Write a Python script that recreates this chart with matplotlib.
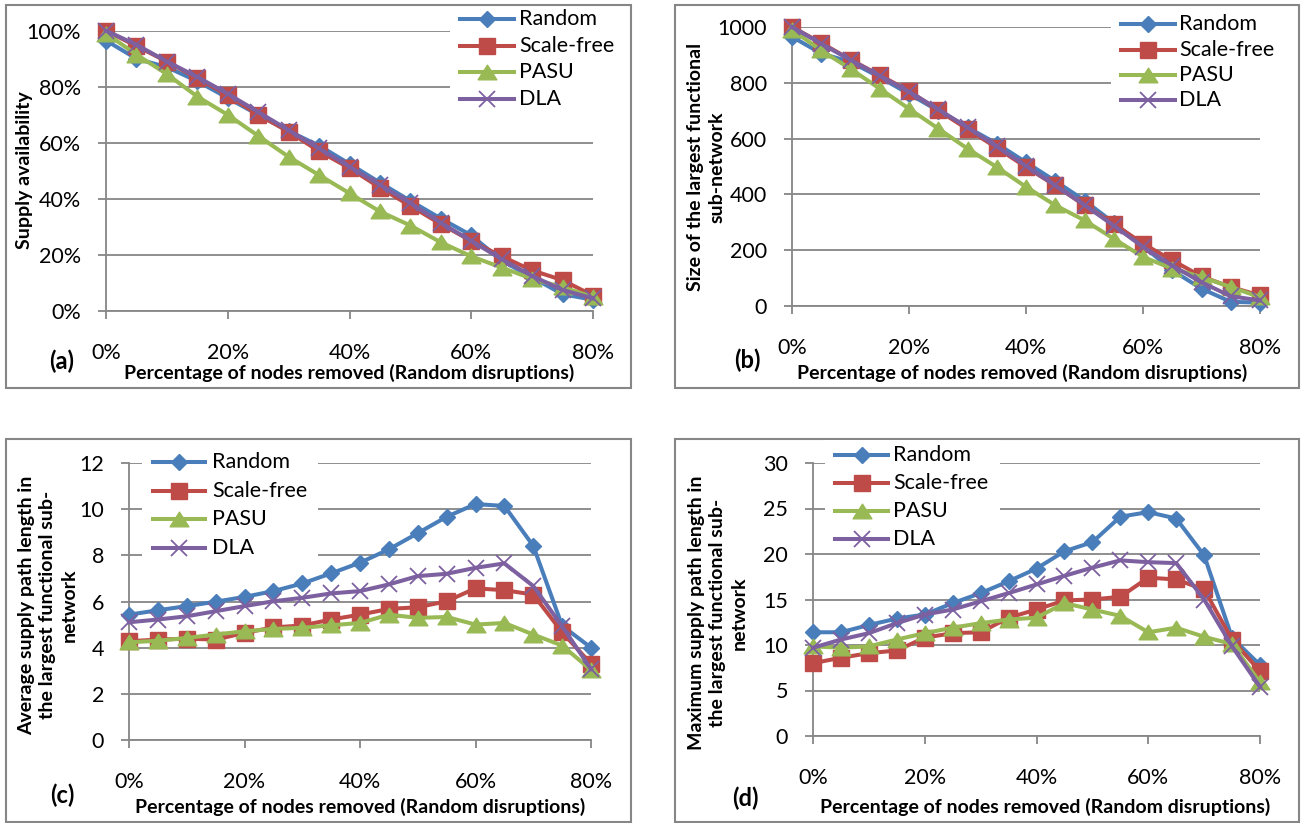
import numpy as np
import matplotlib
matplotlib.use("Agg")
import matplotlib.pyplot as plt
from matplotlib.patches import Rectangle
from matplotlib.lines import Line2D
from matplotlib.path import Path

plt.rcParams['font.family'] = ['Lato', 'DejaVu Sans']

# ---------------- data ----------------
categories = ["0%", "5%", "10%", "15%", "20%", "25%", "30%", "35%", "40%",
              "45%", "50%", "55%", "60%", "65%", "70%", "75%", "80%"]
series_names = ["Random", "Scale-free", "PASU", "DLA"]

a_random = [0.965, 0.90, 0.87, 0.82, 0.76, 0.70, 0.642, 0.59, 0.525, 0.458, 0.393, 0.33, 0.27, 0.18, 0.12, 0.06, 0.04]
a_scalefree = [1.00, 0.945, 0.89, 0.83, 0.77, 0.70, 0.64, 0.57, 0.51, 0.44, 0.375, 0.31, 0.25, 0.195, 0.145, 0.11, 0.055]
a_pasu = [0.99, 0.915, 0.845, 0.765, 0.70, 0.625, 0.55, 0.485, 0.42, 0.355, 0.305, 0.245, 0.195, 0.155, 0.115, 0.085, 0.05]
a_dla = [1.00, 0.95, 0.89, 0.835, 0.775, 0.71, 0.645, 0.58, 0.515, 0.45, 0.385, 0.315, 0.25, 0.185, 0.125, 0.075, 0.045]

b_random = [965, 905, 875, 820, 760, 700, 640, 582, 515, 448, 378, 298, 215, 128, 62, 15, 12]
b_scalefree = [1000, 943, 883, 827, 771, 701, 634, 567, 498, 432, 361, 295, 223, 164, 106, 68, 38]
b_pasu = [990, 916, 850, 779, 707, 636, 564, 498, 427, 361, 307, 241, 176, 134, 104, 68, 32]
b_dla = [1000, 940, 882, 825, 768, 705, 640, 572, 502, 432, 362, 288, 212, 145, 85, 35, 20]

c_random = [5.43, 5.62, 5.80, 5.99, 6.20, 6.45, 6.78, 7.22, 7.68, 8.26, 8.96, 9.67, 10.22, 10.14, 8.41, 4.95, 4.0]
c_scalefree = [4.28, 4.35, 4.39, 4.35, 4.64, 4.88, 4.96, 5.22, 5.43, 5.68, 5.75, 6.01, 6.57, 6.49, 6.30, 4.67, 3.30]
c_pasu = [4.23, 4.30, 4.42, 4.57, 4.71, 4.81, 4.86, 4.97, 5.07, 5.43, 5.29, 5.33, 5.00, 5.07, 4.57, 4.09, 3.04]
c_dla = [5.10, 5.22, 5.36, 5.58, 5.80, 6.01, 6.16, 6.35, 6.45, 6.74, 7.10, 7.20, 7.46, 7.65, 6.67, 4.93, 3.07]

d_random = [11.4, 11.4, 12.2, 12.9, 13.35, 14.6, 15.7, 17.0, 18.4, 20.3, 21.3, 24.1, 24.6, 23.9, 19.85, 10.8, 7.8]
d_scalefree = [8.0, 8.6, 9.1, 9.4, 10.8, 11.3, 11.4, 13.0, 13.9, 14.9, 15.0, 15.3, 17.4, 17.2, 16.1, 10.6, 7.1]
d_pasu = [9.85, 9.7, 9.85, 10.6, 11.3, 11.9, 12.4, 12.8, 13.0, 14.6, 13.9, 13.2, 11.4, 11.9, 10.9, 10.1, 5.9]
d_dla = [9.7, 10.6, 11.3, 12.4, 13.35, 13.9, 14.8, 15.7, 16.65, 17.6, 18.5, 19.3, 19.1, 19.0, 15.0, 9.85, 5.4]

xlabel_text = "Percentage of nodes removed (Random disruptions)"
ylabels = ["Supply availability",
           "Size of the largest functional\nsub-network",
           "Average supply path length in\nthe largest functional sub-\nnetwork",
           "Maximum supply path length in\nthe largest functional sub-\nnetwork"]
tags = ["(a)", "(b)", "(c)", "(d)"]

# ---------------- style ----------------
W, H = 1302, 823
GRAY = '#868686'
colors = ['#4A7EBB', '#BE4B48', '#98B954', '#7D60A0']
tri = Path([(-1, -0.78), (1, -0.78), (0, 0.78), (-1, -0.78)],
           [Path.MOVETO, Path.LINETO, Path.LINETO, Path.CLOSEPOLY])
markers = [dict(marker='D', ms=8.6, mew=1.0),
           dict(marker='s', ms=11, mew=1.0),
           dict(marker=tri, ms=13.5, mew=1.0),
           dict(marker='x', ms=12, mew=1.3)]

fig = plt.figure(figsize=(W / 100, H / 100), dpi=100)
fig.patch.set_facecolor('white')


def fx(x):
    return x / W


def fy(y):
    return 1 - y / H


panels = [
    dict(rect=(106, 593, 30.7, 311), data=[a_random, a_scalefree, a_pasu, a_dla],
         ylim=(0, 1), yticks=np.arange(0, 1.01, 0.2), pct=True,
         box=(6, 631, 5, 388), xlab=(349, 373), ylab=(25, 170), tag=(62, 361),
         leg=dict(box=(450, 616, 8, 112), hx=(460, 514), tx=519, rows=[19, 46, 72, 99])),
    dict(rect=(792, 1260, 27, 306), data=[b_random, b_scalefree, b_pasu, b_dla],
         ylim=(0, 1000), yticks=np.arange(0, 1001, 200), pct=False,
         box=(675, 1299, 5, 388), xlab=(1022, 373), ylab=(706, 167), tag=(747, 360),
         leg=dict(box=(1111, 1292, 8, 112), hx=(1121, 1175), tx=1179, rows=[24, 50, 75, 100])),
    dict(rect=(129, 591, 463, 740), data=[c_random, c_scalefree, c_pasu, c_dla],
         ylim=(0, 12), yticks=np.arange(0, 12.1, 2), pct=False,
         box=(6, 631, 439, 822), xlab=(360, 807), ylab=(48, 605), tag=(62, 795),
         leg=dict(box=(142, 318, 445, 562), hx=(153, 205), tx=212, rows=[462, 491, 519, 548])),
    dict(rect=(813, 1260, 463, 736), data=[d_random, d_scalefree, d_pasu, d_dla],
         ylim=(0, 30), yticks=np.arange(0, 30.1, 5), pct=False,
         box=(675, 1299, 439, 822), xlab=(1045, 807), ylab=(718, 613), tag=(745, 798),
         leg=dict(box=(825, 1000, 440, 552), hx=(835, 888), tx=893, rows=[455, 483, 511, 539])),
]

x = np.arange(len(categories))

for i, p in enumerate(panels):
    l, r, t, b = p['rect']
    ax = fig.add_axes([fx(l), fy(b), (r - l) / W, (b - t) / H])
    for j, (vals, name) in enumerate(zip(p['data'], series_names)):
        m = markers[j]
        ax.plot(x, vals, color=colors[j], lw=2.9, marker=m['marker'], ms=m['ms'],
                mew=m['mew'], mec=colors[j], mfc=colors[j], clip_on=False,
                zorder=3 + j, label=name)
    ax.set_xlim(0, len(categories) - 1)
    ax.set_ylim(*p['ylim'])
    ax.set_yticks(p['yticks'])
    if p['pct']:
        ax.set_yticklabels([f"{v * 100:.0f}%" for v in p['yticks']])
    else:
        ax.set_yticklabels([f"{v:.0f}" for v in p['yticks']])
    ax.set_xticks(x[::4])
    ax.set_xticklabels(categories[::4])
    ax.yaxis.grid(True, color=GRAY, lw=1.3)
    ax.set_axisbelow(True)
    for s in ['top', 'right']:
        ax.spines[s].set_visible(False)
    for s in ['left', 'bottom']:
        ax.spines[s].set_color(GRAY)
        ax.spines[s].set_linewidth(1.3)
    ax.tick_params(axis='y', direction='out', length=5.5, width=1.3, color=GRAY,
                   pad=12.5, labelsize=15.5, labelcolor='black')
    ax.tick_params(axis='x', direction='out', length=6, width=1.3, color=GRAY,
                   pad=17, labelsize=15.5, labelcolor='black')
    ax.set_facecolor('none')

    # outer chart border
    bl, br, bt, bb = p['box']
    fig.patches.append(Rectangle((fx(bl), fy(bb)), (br - bl) / W, (bb - bt) / H,
                                 transform=fig.transFigure, fill=False,
                                 edgecolor=GRAY, lw=1.5, zorder=1))

    # labels
    fig.text(fx(p['xlab'][0]), fy(p['xlab'][1]), xlabel_text, ha='center', va='center',
             fontsize=14, fontweight='bold')
    fig.text(fx(p['ylab'][0]), fy(p['ylab'][1]), ylabels[i], ha='center', va='center',
             rotation=90, fontsize=14, fontweight='bold', multialignment='center',
             linespacing=1.33)
    fig.text(fx(p['tag'][0]), fy(p['tag'][1]), tags[i], ha='center', va='center',
             fontsize=17, fontweight='bold')

    # legend
    lg = p['leg']
    lb, lr, lt, lbt = lg['box']
    fig.patches.append(Rectangle((fx(lb), fy(lbt)), (lr - lb) / W, (lbt - lt) / H,
                                 transform=fig.transFigure, facecolor='white',
                                 edgecolor='none', zorder=1.5))
    for j, name in enumerate(series_names):
        yy = fy(lg['rows'][j])
        m = markers[j]
        fig.add_artist(Line2D([fx(lg['hx'][0]), fx(lg['hx'][1])], [yy, yy],
                              transform=fig.transFigure, color=colors[j], lw=2.9,
                              zorder=2))
        fig.add_artist(Line2D([fx((lg['hx'][0] + lg['hx'][1]) / 2)], [yy],
                              transform=fig.transFigure, color=colors[j], lw=0,
                              marker=m['marker'], ms=m['ms'], mew=m['mew'],
                              mec=colors[j], mfc=colors[j], zorder=2.1))
        fig.text(fx(lg['tx']), yy, name, ha='left', va='center', fontsize=15.5,
                 zorder=3)

fig.savefig("out.png", dpi=100, facecolor='white')
